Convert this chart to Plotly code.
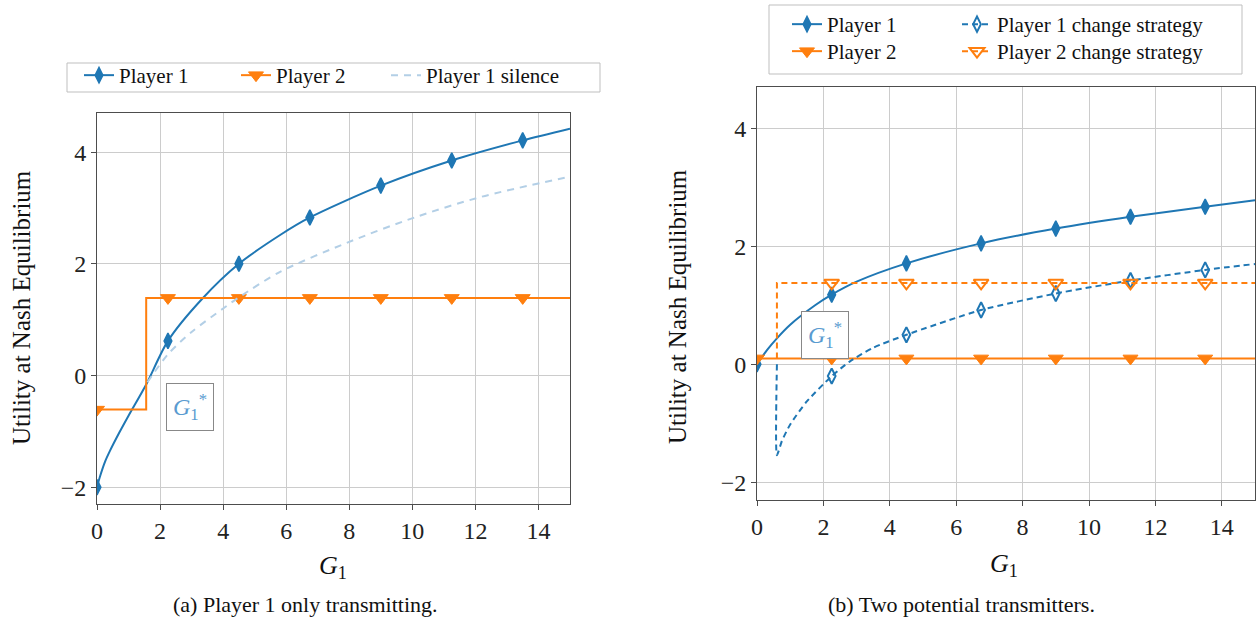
import plotly.graph_objects as go

FONT = "Liberation Serif"
BLUE = "#1f77b4"
ORANGE = "#ff7f0e"
LIGHT = "#b3cfe6"
GSTAR = "#5a9bd0"
GRID = "#cccccc"
FRAME = "#4d4d4d"

# ---------------- data ----------------
marker_x = [0, 2.25, 4.5, 6.75, 9, 11.25, 13.5]

# (a) Player 1 only transmitting
a_p1_x = [0, 0.1, 0.25, 0.41, 0.7, 1.0, 1.56, 2.25, 3.33, 4.5, 5.82, 6.75, 9, 11.25, 13.5, 15]
a_p1_y = [-2, -1.8, -1.55, -1.35, -1.03, -0.72, -0.16, 0.62, 1.37, 2.0, 2.52, 2.83, 3.4, 3.85, 4.21, 4.42]
a_p2_x = [0, 1.56, 2.25, 4.5, 6.75, 9, 11.25, 13.5, 15]
a_p2_y = [-0.61, 1.39, 1.39, 1.39, 1.39, 1.39, 1.39, 1.39, 1.39]
a_sil_x = [1.6, 2.25, 3.0, 4.0, 4.5, 5.82, 7.94, 10.07, 12.19, 15]
a_sil_y = [-0.12, 0.38, 0.78, 1.2, 1.4, 1.86, 2.38, 2.83, 3.2, 3.56]

# (b) Two potential transmitters
b_p1_x = [0, 0.3, 0.6, 1.0, 1.75, 2.25, 3.0, 4.5, 6.75, 9, 11.25, 13.5, 15]
b_p1_y = [0, 0.24, 0.44, 0.67, 1.0, 1.18, 1.4, 1.71, 2.05, 2.3, 2.5, 2.67, 2.78]
b_p1c_x = [0.6, 0.6, 0.75, 1.0, 1.5, 2.25, 2.8, 3.5, 4.5, 6.75, 9, 11.25, 13.5, 15]
b_p1c_y = [0.0, -1.54, -1.3, -1.02, -0.63, -0.2, 0.05, 0.28, 0.5, 0.92, 1.2, 1.42, 1.6, 1.7]
b_p2_x = [0, 2.25, 4.5, 6.75, 9, 11.25, 13.5, 15]
b_p2_y = [0.1, 0.1, 0.1, 0.1, 0.1, 0.1, 0.1, 0.1]
b_p2c_x = [0.6, 0.6, 2.25, 4.5, 6.75, 9, 11.25, 13.5, 15]
b_p2c_y = [0.1, 1.38, 1.38, 1.38, 1.38, 1.38, 1.38, 1.38, 1.38]

x_ticks = [0, 2, 4, 6, 8, 10, 12, 14]
y_ticks = [-2, 0, 2, 4]

captions = ["(a) Player 1 only transmitting.", "(b) Two potential transmitters."]
gstar_pos = [(2.96, -0.57), (2.05, 0.49)]

DMS = 11   # diamond size
TMS = 13   # triangle size

W, H = 1258, 618


def px_x(p):
    return p / W


def px_y(p):
    return 1 - p / H


def marked(xs):
    return [i for i, x in enumerate(xs) if x in marker_x]


def series(x, y, name, color, symbol, size, legend, xa, ya, dash="solid", shape="linear",
           smoothing=1.0, mlw=0, markers=True):
    kw = dict(
        x=x, y=y, name=name, legend=legend, xaxis=xa, yaxis=ya,
        mode="lines+markers" if markers else "lines",
        line=dict(color=color, width=2, dash=dash, shape=shape,
                  **({"smoothing": smoothing} if shape == "spline" else {})),
    )
    if markers:
        kw["marker"] = dict(symbol=symbol, size=size, color=color, line=dict(width=mlw, color=color))
        kw["selectedpoints"] = marked(x)
        kw["unselected"] = dict(marker=dict(opacity=0))
        kw["selected"] = dict(marker=dict(opacity=1))
    return go.Scatter(**kw)


fig = go.Figure()

# ---- panel (a)
fig.add_trace(series(a_p1_x, a_p1_y, "Player 1", BLUE, "diamond-tall", DMS, "legend", "x", "y",
                     shape="spline", smoothing=0.8, mlw=1.5))
fig.add_trace(series(a_p2_x, a_p2_y, "Player 2", ORANGE, "triangle-down", TMS, "legend2", "x", "y",
                     shape="hv", mlw=1))
fig.add_trace(series(a_sil_x, a_sil_y, "Player 1 silence", LIGHT, None, 0, "legend3", "x", "y",
                     dash="7px,6px", shape="spline", smoothing=0.8, markers=False))

# ---- panel (b)
fig.add_trace(series(b_p1_x, b_p1_y, "Player 1", BLUE, "diamond-tall", DMS, "legend4", "x2", "y2",
                     shape="spline", smoothing=0.8, mlw=1.5))
fig.add_trace(series(b_p2_x, b_p2_y, "Player 2", ORANGE, "triangle-down", TMS, "legend5", "x2", "y2",
                     mlw=1))
fig.add_trace(series(b_p1c_x, b_p1c_y, "Player 1 change strategy", BLUE, "diamond-tall-open", DMS,
                     "legend6", "x2", "y2", dash="6px,4px", shape="spline", smoothing=0.6, mlw=2))
fig.add_trace(series(b_p2c_x, b_p2c_y, "Player 2 change strategy", ORANGE, "triangle-down-open", TMS,
                     "legend7", "x2", "y2", dash="6px,4px", mlw=2))

axis_common = dict(
    showgrid=True, gridcolor=GRID, gridwidth=1,
    showline=True, linecolor=FRAME, linewidth=1, mirror=True,
    ticks="outside", ticklen=5, tickcolor=FRAME,
    tickfont=dict(family=FONT, size=24, color="#222222"),
    zeroline=False,
)

legend_common = dict(
    xanchor="left", yanchor="top", orientation="v",
    bgcolor="rgba(0,0,0,0)", borderwidth=0,
    font=dict(family=FONT, size=21, color="#111111"),
)

# text-start x and text-centre y (page pixels) for each legend entry
legend_pos = {
    "legend": (120, 76), "legend2": (277, 76), "legend3": (427, 76),
    "legend4": (828, 25), "legend5": (828, 52), "legend6": (998, 25), "legend7": (998, 52),
}
legends = {}
for key, (tx, ty) in legend_pos.items():
    legends[key] = dict(x=px_x(tx - 41), y=px_y(ty - 21), **legend_common)

fig.update_layout(
    width=W, height=H,
    margin=dict(l=0, r=0, t=0, b=0, autoexpand=False),
    paper_bgcolor="white", plot_bgcolor="white",
    font=dict(family=FONT, size=21, color="#111111"),
    xaxis=dict(domain=[px_x(97), px_x(570)], range=[0, 15], tickvals=x_ticks, anchor="y", **axis_common),
    yaxis=dict(domain=[px_y(504), px_y(113)], range=[-2.3, 4.7], tickvals=y_ticks, anchor="x", **axis_common),
    xaxis2=dict(domain=[px_x(757), px_x(1255)], range=[0, 15], tickvals=x_ticks, anchor="y2", **axis_common),
    yaxis2=dict(domain=[px_y(500), px_y(87)], range=[-2.3, 4.7], tickvals=y_ticks, anchor="x2", **axis_common),
    showlegend=True,
    **legends,
)

# legend frames
fig.add_shape(type="rect", xref="paper", yref="paper",
              x0=px_x(67), x1=px_x(600), y0=px_y(92), y1=px_y(63),
              line=dict(color="#bfbfbf", width=1), fillcolor="rgba(0,0,0,0)", layer="below")
fig.add_shape(type="rect", xref="paper", yref="paper",
              x0=px_x(769), x1=px_x(1242), y0=px_y(74), y1=px_y(5),
              line=dict(color="#bfbfbf", width=1), fillcolor="rgba(0,0,0,0)", layer="below")

ann = dict(xref="paper", yref="paper", showarrow=False, xanchor="center", yanchor="middle")
# axis titles
for xc, yc in [(21, 308), (678, 307)]:
    fig.add_annotation(x=px_x(xc), y=px_y(yc), text="Utility at Nash Equilibrium", textangle=-90,
                       font=dict(family=FONT, size=25, color="#111111"), **ann)
for xc, yc in [(333, 567), (1004, 565)]:
    fig.add_annotation(x=px_x(xc), y=px_y(yc), text="<i>G</i><sub>1</sub>",
                       font=dict(family=FONT, size=26, color="#111111"), **ann)
# captions
for (xc, yc), txt in zip([(305, 604), (962, 604)], captions):
    fig.add_annotation(x=px_x(xc), y=px_y(yc), text=txt,
                       font=dict(family=FONT, size=22, color="#111111"), **ann)

# G1* labels
for (gx, gy), (xr, yr) in zip(gstar_pos, [("x", "y"), ("x2", "y2")]):
    fig.add_annotation(x=gx, y=gy, xref=xr, yref=yr, showarrow=False,
                       text="<i>G</i><sub>1</sub><sup>*</sup>",
                       font=dict(family=FONT, size=24, color=GSTAR),
                       bordercolor="#888888", borderwidth=1, borderpad=6, bgcolor="white")

fig.write_html(
    "out.html",
    config={"displayModeBar": False},
    post_script="document.body.style.margin='0';document.body.style.overflow='hidden';",
)
